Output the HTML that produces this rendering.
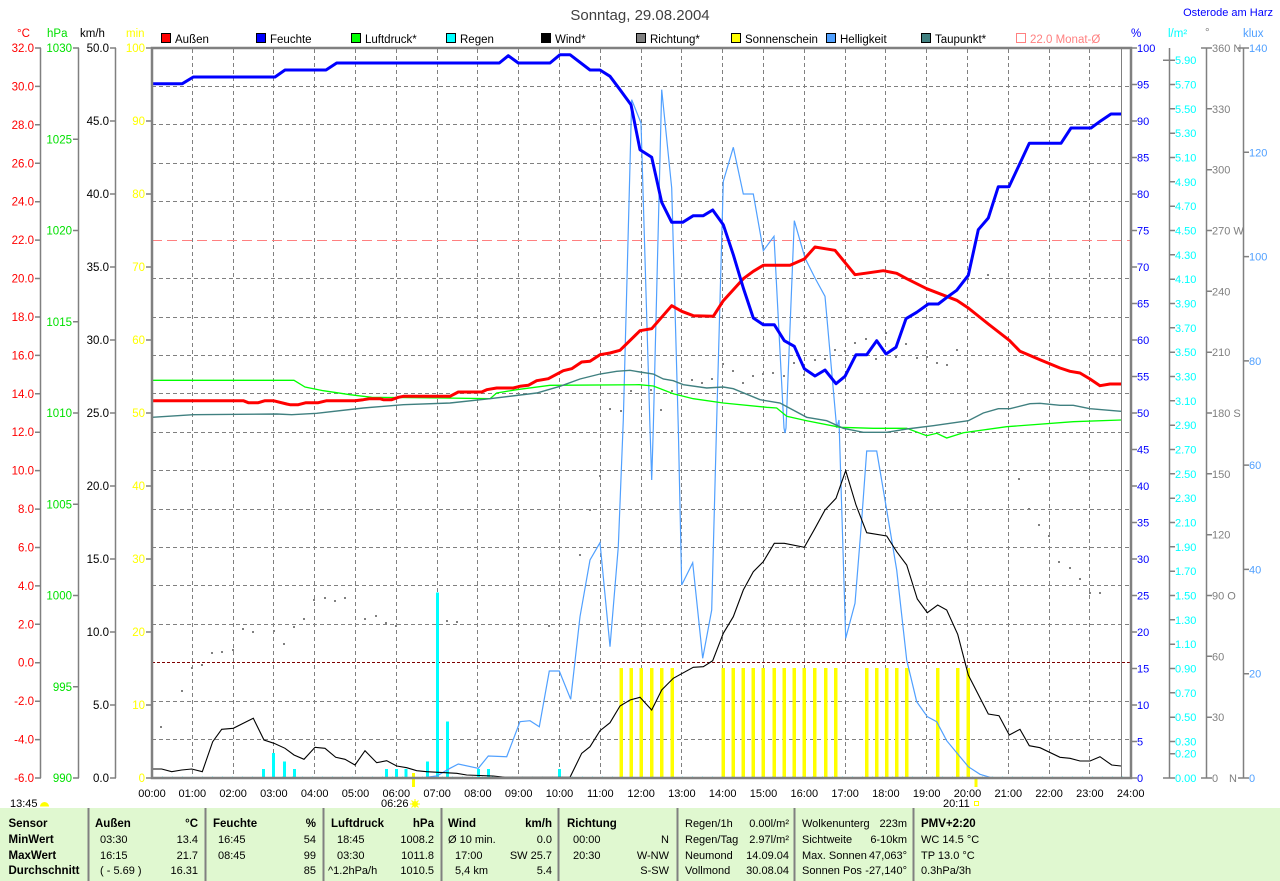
<!DOCTYPE html>
<html><head><meta charset="utf-8"><style>
html,body{margin:0;padding:0;background:#fff;width:1280px;height:881px;overflow:hidden}
svg{display:block}
text{font-family:"Liberation Sans",Arial,sans-serif}
</style></head><body>
<svg width="1280" height="881" viewBox="0 0 1280 881" xmlns="http://www.w3.org/2000/svg">
<rect x="0" y="0" width="1280" height="881" fill="#fff"/>
<!-- Title -->
<text x="640" y="20" font-size="15" fill="#404040" text-anchor="middle">Sonntag, 29.08.2004</text>
<text x="1273" y="16" font-size="11" fill="#0000ff" text-anchor="end">Osterode am Harz</text>

<!-- Legend -->
<g font-size="11.5" fill="#000">
<rect x="161.5" y="33.5" width="9" height="9" fill="#ff0000" stroke="#000"/><text x="175" y="43">Außen</text>
<rect x="256.5" y="33.5" width="9" height="9" fill="#0000ff" stroke="#000"/><text x="270" y="43">Feuchte</text>
<rect x="351.5" y="33.5" width="9" height="9" fill="#00ff00" stroke="#000"/><text x="365" y="43">Luftdruck*</text>
<rect x="446.5" y="33.5" width="9" height="9" fill="#00ffff" stroke="#000"/><text x="460" y="43">Regen</text>
<rect x="541.5" y="33.5" width="9" height="9" fill="#000000" stroke="#000"/><text x="555" y="43">Wind*</text>
<rect x="636.5" y="33.5" width="9" height="9" fill="#808080" stroke="#000"/><text x="650" y="43">Richtung*</text>
<rect x="731.5" y="33.5" width="9" height="9" fill="#ffff00" stroke="#000"/><text x="745" y="43">Sonnenschein</text>
<rect x="826.5" y="33.5" width="9" height="9" fill="#50a0ff" stroke="#000"/><text x="840" y="43">Helligkeit</text>
<rect x="921.5" y="33.5" width="9" height="9" fill="#408080" stroke="#000"/><text x="935" y="43">Taupunkt*</text>
<rect x="1016.5" y="33.5" width="9" height="9" fill="none" stroke="#ff8080"/><text x="1030" y="43" fill="#ff8080">22.0 Monat-Ø</text>
</g>

<!-- Axis headers -->
<g font-size="11.5">
<text x="17" y="37" fill="#ff0000">°C</text>
<text x="47" y="37" fill="#00e000">hPa</text>
<text x="80" y="37" fill="#000">km/h</text>
<text x="126" y="37" fill="#ffff00">min</text>
<text x="1131" y="37" fill="#0000ff">%</text>
<text x="1168" y="37" fill="#00ffff">l/m²</text>
<text x="1205" y="36" fill="#808080">°</text>
<text x="1243" y="37" fill="#50a0ff">klux</text>
</g>

<!-- Grid -->
<g stroke="#808080" stroke-width="1" stroke-dasharray="4 3" fill="none">
<path d="M192.5 49V777M233.5 49V777M273.5 49V777M314.5 49V777M355.5 49V777M396.5 49V777M437.5 49V777M477.5 49V777M518.5 49V777M559.5 49V777M600.5 49V777M641.5 49V777M681.5 49V777M722.5 49V777M763.5 49V777M804.5 49V777M845.5 49V777M885.5 49V777M926.5 49V777M967.5 49V777M1008.5 49V777M1049.5 49V777M1089.5 49V777"/>
<path d="M152 86.5H1130M152 124.5H1130M152 163.5H1130M152 201.5H1130M152 278.5H1130M152 317.5H1130M152 355.5H1130M152 393.5H1130M152 432.5H1130M152 470.5H1130M152 509.5H1130M152 547.5H1130M152 585.5H1130M152 624.5H1130M152 701.5H1130M152 739.5H1130"/>
</g>
<path d="M152 240.5H1130" stroke="#ff8080" stroke-width="1" stroke-dasharray="10 5"/>
<path d="M152 662.5H1130" stroke="#800000" stroke-width="1" stroke-dasharray="3 2"/>
<path d="M1121.5 48V778" stroke="#808080" stroke-width="1"/>

<!-- Richtung dots -->
<g fill="#808080">
<rect x="160" y="726" width="2" height="2"/><rect x="181" y="690" width="2" height="2"/><rect x="191" y="667" width="2" height="2"/><rect x="201" y="664" width="2" height="2"/><rect x="211" y="652" width="2" height="2"/><rect x="221" y="651" width="2" height="2"/><rect x="232" y="649" width="2" height="2"/><rect x="242" y="628" width="2" height="2"/><rect x="252" y="631" width="2" height="2"/><rect x="273" y="630" width="2" height="2"/><rect x="283" y="643" width="2" height="2"/><rect x="293" y="626" width="2" height="2"/><rect x="303" y="618" width="2" height="2"/><rect x="313" y="599" width="2" height="2"/><rect x="324" y="597" width="2" height="2"/><rect x="334" y="600" width="2" height="2"/><rect x="344" y="597" width="2" height="2"/><rect x="364" y="618" width="2" height="2"/><rect x="375" y="615" width="2" height="2"/><rect x="385" y="622" width="2" height="2"/><rect x="395" y="625" width="2" height="2"/><rect x="446" y="620" width="2" height="2"/><rect x="456" y="621" width="2" height="2"/><rect x="548" y="625" width="2" height="2"/><rect x="579" y="554" width="2" height="2"/><rect x="589" y="509" width="2" height="2"/><rect x="599" y="475" width="2" height="2"/><rect x="609" y="408" width="2" height="2"/><rect x="620" y="410" width="2" height="2"/><rect x="630" y="390" width="2" height="2"/><rect x="650" y="389" width="2" height="2"/><rect x="660" y="409" width="2" height="2"/><rect x="671" y="390" width="2" height="2"/><rect x="691" y="379" width="2" height="2"/><rect x="701" y="382" width="2" height="2"/><rect x="711" y="378" width="2" height="2"/><rect x="722" y="363" width="2" height="2"/><rect x="732" y="370" width="2" height="2"/><rect x="742" y="382" width="2" height="2"/><rect x="752" y="375" width="2" height="2"/><rect x="762" y="373" width="2" height="2"/><rect x="772" y="372" width="2" height="2"/><rect x="783" y="375" width="2" height="2"/><rect x="793" y="362" width="2" height="2"/><rect x="803" y="374" width="2" height="2"/><rect x="814" y="359" width="2" height="2"/><rect x="824" y="358" width="2" height="2"/><rect x="834" y="349" width="2" height="2"/><rect x="844" y="350" width="2" height="2"/><rect x="854" y="342" width="2" height="2"/><rect x="865" y="338" width="2" height="2"/><rect x="875" y="358" width="2" height="2"/><rect x="885" y="332" width="2" height="2"/><rect x="895" y="356" width="2" height="2"/><rect x="905" y="343" width="2" height="2"/><rect x="916" y="357" width="2" height="2"/><rect x="926" y="356" width="2" height="2"/><rect x="936" y="362" width="2" height="2"/><rect x="946" y="364" width="2" height="2"/><rect x="956" y="349" width="2" height="2"/><rect x="967" y="278" width="2" height="2"/><rect x="987" y="274" width="2" height="2"/><rect x="1018" y="478" width="2" height="2"/><rect x="1028" y="508" width="2" height="2"/><rect x="1038" y="524" width="2" height="2"/><rect x="1048" y="535" width="2" height="2"/><rect x="1058" y="561" width="2" height="2"/><rect x="1069" y="567" width="2" height="2"/><rect x="1079" y="578" width="2" height="2"/><rect x="1089" y="592" width="2" height="2"/><rect x="1099" y="592" width="2" height="2"/>
</g>

<!-- Sonnenschein bars -->
<g fill="#ffff00">
<rect x="619.5" y="668" width="3.5" height="110"/><rect x="629.5" y="668" width="3.5" height="110"/><rect x="639.5" y="668" width="3.5" height="110"/><rect x="650" y="668" width="3.5" height="110"/><rect x="660" y="668" width="3.5" height="110"/><rect x="670.5" y="668" width="3.5" height="110"/><rect x="721.5" y="668" width="3.5" height="110"/><rect x="731.5" y="668" width="3.5" height="110"/><rect x="741.5" y="668" width="3.5" height="110"/><rect x="751.5" y="668" width="3.5" height="110"/><rect x="761.5" y="668" width="3.5" height="110"/><rect x="772.5" y="668" width="3.5" height="110"/><rect x="782.5" y="668" width="3.5" height="110"/><rect x="792.5" y="668" width="3.5" height="110"/><rect x="802.5" y="668" width="3.5" height="110"/><rect x="813" y="668" width="3.5" height="110"/><rect x="824" y="668" width="3.5" height="110"/><rect x="834" y="668" width="3.5" height="110"/><rect x="865" y="668" width="3.5" height="110"/><rect x="875" y="668" width="3.5" height="110"/><rect x="885" y="668" width="3.5" height="110"/><rect x="895" y="668" width="3.5" height="110"/><rect x="905" y="668" width="3.5" height="110"/><rect x="936" y="668" width="3.5" height="110"/><rect x="956" y="668" width="3.5" height="110"/><rect x="966.5" y="668" width="3.5" height="110"/>
<rect x="412" y="773" width="3" height="14"/><rect x="974.5" y="778" width="3" height="9"/>
</g>

<!-- Regen bars -->
<g fill="#00ffff">
<rect x="262" y="769" width="3" height="9"/><rect x="272" y="753" width="3" height="25"/><rect x="283" y="761.5" width="3" height="16.5"/><rect x="293" y="769" width="3" height="9"/><rect x="385" y="769" width="3" height="9"/><rect x="395" y="769" width="3" height="9"/><rect x="404.5" y="769" width="3" height="9"/><rect x="426" y="761.5" width="3" height="16.5"/><rect x="436" y="592.5" width="3" height="185.5"/><rect x="446" y="721.5" width="3" height="56.5"/><rect x="477" y="769" width="3" height="9"/><rect x="487" y="769" width="3" height="9"/><rect x="558" y="769" width="3" height="9"/>
</g>
<path d="M152 777H1130" stroke="#00ffff" stroke-width="1" stroke-dasharray="1 9"/>

<!-- Helligkeit -->
<polyline fill="none" stroke="#50a0ff" stroke-width="1.2" points="413,778 423.3,777.7 436.7,776 450,768.3 458.3,764 478.3,768.3 488.3,756 506.7,756.7 520,721.7 530,720.7 539.3,726.7 549.3,671 559.3,671 570.7,699.3 580,616.7 590,560 600,542.7 610,646.7 618.3,546.7 623.3,420 630,164.7 631.7,99.7 641,123 650,428 651.7,480 653.3,428 661.7,89.7 671.7,188 678.3,428 681.7,585 692.7,562.7 702.7,658.3 711.7,610 716.7,420 723.3,181.3 733.3,147.3 743.3,194 753.3,194 763.3,250.7 774,236.3 784,428 785,433 786,428 794.3,220.7 805,258 815,278 825,296.3 836.7,428 839,420 845.7,638.3 855,603.3 861.7,520 866.7,451 876.7,451 886.7,510 896.7,570 906.7,660 916.7,701.7 927.3,716.7 936.7,721.7 946.7,740.7 968.3,766.7 980,774.3 990,777.3 1000,778"/>

<!-- Luftdruck -->
<polyline fill="none" stroke="#00ff00" stroke-width="1.3" points="152,380.3 294,380.3 305,387 323.3,390.7 350,394.7 371.7,397.3 443.3,398 490,398.7 496.7,393 516.7,389.7 550,385.3 639.3,384.7 653.3,386 673.3,393.7 693.3,398.7 723.3,403 766.7,407.3 776.7,408 786.7,416.3 806.7,420.7 840,427.3 873.3,428.3 906.7,428.3 926.7,435.7 936.7,433.3 946.7,438 963.3,432.7 1006.7,426.7 1073.3,421.7 1121,420"/>

<!-- Taupunkt -->
<polyline fill="none" stroke="#408080" stroke-width="1.4" points="152,417.3 193.3,414.7 276.7,414 291.7,414.7 316.7,413.3 363.3,408 403.3,404.7 450,403 490,398.7 536.7,393 560,386.3 580,379 600,374 616.7,371.3 630,370.3 640,372 653.3,374 663.3,379 673.3,380.7 683.3,384.7 706.7,388 723.3,387 733.3,388.7 760,399.7 780,403 806.7,417.3 826.7,420.7 843.3,428.3 863.3,432.3 886.7,432.3 906.7,429 933.3,425.7 968.3,420.7 983.3,413 998.3,408.7 1010,408.7 1030,403.7 1040,403.3 1060,405.3 1073.3,405.3 1090,408.7 1121,411.3"/>

<!-- Wind -->
<polyline fill="none" stroke="#000" stroke-width="1.1" points="152,769 161.7,769 171.7,771.7 181.7,770 191.7,769 202.3,771.7 212.7,741.7 221.7,729.3 233.3,728.3 243.3,723.3 253.3,718.3 264,740 274,743.3 285,748.3 294,755 304,759.3 315,747.3 325,748.3 335.7,757.3 345,759.3 355,765 365,750.7 376.7,762.7 386.7,760.7 396.7,766 406.7,767.7 416.7,770.7 426.7,771.7 456.7,773.3 466.7,775 493.3,776 505,777.3 570,777.3 581.7,753.3 590,746.7 600,730.7 610,722.7 620,706 630,700 640,697.3 651.7,710 661.7,690 673.3,678.3 693.3,667.3 703.3,666.7 712.7,660.7 723.3,633.3 733.3,616.7 743.3,590 753.3,571.7 763.3,561.7 774.3,543.3 784.3,543.3 804.3,547.3 815,528.3 825,510 836,498.3 845.7,470.7 856,505 866.7,532.7 886.7,536 896.7,551.7 906.7,565 917.3,599 927.3,612.7 937.7,605 946.7,610 957.7,634.3 968.3,675 988.3,714 999,715.7 1009.3,735 1020,729.3 1029.3,745.7 1040,747.7 1060,757.3 1070,758.3 1080,761 1090,761 1100,756.7 1111.7,765 1121,766"/>

<!-- Außen -->
<polyline fill="none" stroke="#ff0000" stroke-width="3" stroke-linejoin="round" points="152,400.7 243.3,400.7 248.3,402.7 258.3,402.7 265,400.7 273.3,400.7 286.7,404 290,404.7 298.3,404.7 306,402.7 318.3,402.7 326.7,400.7 355,400.7 363.3,399.7 370,398.7 380,398.7 383.3,399.7 391.7,399.7 398.3,397.3 403.3,396.3 450,396.3 458.3,392 481.7,392 486.7,389.7 496.7,388 513.3,388 520,386.3 528.3,385.3 536.7,380.7 548.3,378.7 563.3,370.7 571.7,368.7 581.7,362 590,361.3 600,354.7 610,353 620,350.3 640,330.7 651.7,328.7 671.7,305.7 681.7,311.3 693.3,315.7 713.3,316.3 723.3,300.7 743.3,278.7 753.3,271.3 763.3,265.3 790,265.3 804.3,259 815,247 825,248.7 835,250.3 855,274.7 865,273.3 883.3,270.7 896.7,273.3 906.7,278.7 926.7,288.7 956.7,300.3 968.3,308 988.3,324 1009.3,340.3 1020,351.3 1040,359.7 1060,368 1070,371.3 1080,373 1090,379 1100,385.7 1110,384 1121,384"/>

<!-- Feuchte -->
<polyline fill="none" stroke="#0000ff" stroke-width="3" stroke-linejoin="round" points="152,83.7 182.3,83.7 193.3,77 275,77 285,70 326,70 336.7,63 499.3,63 508.3,55.7 518.3,63 550,63 560,54.7 570,54.7 590,70 600,70 610,76.3 620,89.7 631,104.7 640,149.7 651.7,157.3 661.7,202.3 671.7,222.3 682.7,222.3 693.3,215.7 703.3,215.7 712.7,210 723.3,224.7 733.3,254.7 743.3,288 753.3,318 763.3,324.7 774.3,324.7 784.3,340.7 794.3,346.3 804.3,368.7 815,376 825,370 836,383.7 845,376.3 856,354.7 866.7,354.7 876.7,340.7 886,354 896,347.3 906,318.7 916.7,312.3 928.3,304 938.3,304 948.3,296.3 956.7,290.3 968.3,275.3 974.3,248 978.3,229.7 988.3,218 998.3,186.7 1009,186.7 1019.3,164.7 1029.3,143.3 1061,143.3 1071,128 1091,128 1101,120.7 1111,114 1121,114"/>

<!-- Plot frame -->
<rect x="152" y="48" width="979" height="730" fill="none" stroke="#808080" stroke-width="2.5"/>

<!-- Left axes -->
<g stroke="#808080" stroke-width="1.5" fill="none">
<path d="M40.5 48V778M78.5 48V778M115.5 48V778"/>
<path d="M35 48h6M35 86.4h6M35 124.8h6M35 163.3h6M35 201.7h6M35 240.1h6M35 278.5h6M35 317h6M35 355.4h6M35 393.8h6M35 432.2h6M35 470.6h6M35 509.1h6M35 547.5h6M35 585.9h6M35 624.3h6M35 662.7h6M35 701.2h6M35 739.6h6M35 778h6"/>
<path d="M73 48h6M73 139.3h6M73 230.5h6M73 321.8h6M73 413h6M73 504.3h6M73 595.5h6M73 686.8h6M73 778h6"/>
<path d="M110 48h6M110 121h6M110 194h6M110 267h6M110 340h6M110 413h6M110 486h6M110 559h6M110 632h6M110 705h6M110 778h6"/>
<path d="M146 48h6M146 121h6M146 194h6M146 267h6M146 340h6M146 413h6M146 486h6M146 559h6M146 632h6M146 705h6M146 778h6"/>
</g>
<g font-size="11.5" text-anchor="end" fill="#ff0000">
<text x="34" y="52">32.0</text><text x="34" y="90.4">30.0</text><text x="34" y="128.8">28.0</text><text x="34" y="167.3">26.0</text><text x="34" y="205.7">24.0</text><text x="34" y="244.1">22.0</text><text x="34" y="282.5">20.0</text><text x="34" y="321">18.0</text><text x="34" y="359.4">16.0</text><text x="34" y="397.8">14.0</text><text x="34" y="436.2">12.0</text><text x="34" y="474.6">10.0</text><text x="34" y="513.1">8.0</text><text x="34" y="551.5">6.0</text><text x="34" y="589.9">4.0</text><text x="34" y="628.3">2.0</text><text x="34" y="666.7">0.0</text><text x="34" y="705.2">-2.0</text><text x="34" y="743.6">-4.0</text><text x="34" y="782">-6.0</text>
</g>
<g font-size="11.5" text-anchor="end" fill="#00e000">
<text x="72" y="52">1030</text><text x="72" y="143.3">1025</text><text x="72" y="234.5">1020</text><text x="72" y="325.8">1015</text><text x="72" y="417">1010</text><text x="72" y="508.3">1005</text><text x="72" y="599.5">1000</text><text x="72" y="690.8">995</text><text x="72" y="782">990</text>
</g>
<g font-size="11.5" text-anchor="end" fill="#000">
<text x="109" y="52">50.0</text><text x="109" y="125">45.0</text><text x="109" y="198">40.0</text><text x="109" y="271">35.0</text><text x="109" y="344">30.0</text><text x="109" y="417">25.0</text><text x="109" y="490">20.0</text><text x="109" y="563">15.0</text><text x="109" y="636">10.0</text><text x="109" y="709">5.0</text><text x="109" y="782">0.0</text>
</g>
<g font-size="11.5" text-anchor="end" fill="#ffff00">
<text x="145" y="52">100</text><text x="145" y="125">90</text><text x="145" y="198">80</text><text x="145" y="271">70</text><text x="145" y="344">60</text><text x="145" y="417">50</text><text x="145" y="490">40</text><text x="145" y="563">30</text><text x="145" y="636">20</text><text x="145" y="709">10</text><text x="145" y="782">0</text>
</g>

<!-- Right axes -->
<g stroke="#808080" stroke-width="1.5" fill="none">
<path d="M1131 48h6M1131 84.5h6M1131 121h6M1131 157.5h6M1131 194h6M1131 230.5h6M1131 267h6M1131 303.5h6M1131 340h6M1131 376.5h6M1131 413h6M1131 449.5h6M1131 486h6M1131 522.5h6M1131 559h6M1131 595.5h6M1131 632h6M1131 668.5h6M1131 705h6M1131 741.5h6M1131 778h6"/>
<path d="M1169.5 48V778M1206.5 48V778M1243.5 48V778"/>
<path d="M1163 60.2h12M1169 84.5h6M1169 108.8h6M1169 133.2h6M1169 157.5h6M1169 181.8h6M1169 206.2h6M1169 230.5h6M1169 254.8h6M1169 279.2h6M1169 303.5h6M1169 327.8h6M1169 352.2h6M1169 376.5h6M1169 400.8h6M1169 425.2h6M1169 449.5h6M1169 473.8h6M1169 498.2h6M1169 522.5h6M1169 546.8h6M1169 571.2h6M1169 595.5h6M1169 619.8h6M1169 644.2h6M1169 668.5h6M1169 692.8h6M1169 717.2h6M1169 741.5h6M1169 753.7h6M1163 778h12"/>
<path d="M1201 48h11M1206 108.8h6M1206 169.7h6M1206 230.5h6M1206 291.3h6M1206 352.2h6M1206 413h6M1206 473.8h6M1206 534.7h6M1206 595.5h6M1206 656.3h6M1206 717.2h6M1201 778h11"/>
<path d="M1238 48h11M1243 152.3h6M1243 256.6h6M1243 360.9h6M1243 465.1h6M1243 569.4h6M1243 673.7h6M1238 778h11"/>
</g>
<g font-size="11" fill="#0000ff">
<text x="1137" y="52">100</text><text x="1137" y="88.5">95</text><text x="1137" y="125">90</text><text x="1137" y="161.5">85</text><text x="1137" y="198">80</text><text x="1137" y="234.5">75</text><text x="1137" y="271">70</text><text x="1137" y="307.5">65</text><text x="1137" y="344">60</text><text x="1137" y="380.5">55</text><text x="1137" y="417">50</text><text x="1137" y="453.5">45</text><text x="1137" y="490">40</text><text x="1137" y="526.5">35</text><text x="1137" y="563">30</text><text x="1137" y="599.5">25</text><text x="1137" y="636">20</text><text x="1137" y="672.5">15</text><text x="1137" y="709">10</text><text x="1137" y="745.5">5</text><text x="1137" y="782">0</text>
</g>
<g font-size="11" fill="#00ffff">
<text x="1175" y="64.2">5.90</text><text x="1175" y="88.5">5.70</text><text x="1175" y="112.8">5.50</text><text x="1175" y="137.2">5.30</text><text x="1175" y="161.5">5.10</text><text x="1175" y="185.8">4.90</text><text x="1175" y="210.2">4.70</text><text x="1175" y="234.5">4.50</text><text x="1175" y="258.8">4.30</text><text x="1175" y="283.2">4.10</text><text x="1175" y="307.5">3.90</text><text x="1175" y="331.8">3.70</text><text x="1175" y="356.2">3.50</text><text x="1175" y="380.5">3.30</text><text x="1175" y="404.8">3.10</text><text x="1175" y="429.2">2.90</text><text x="1175" y="453.5">2.70</text><text x="1175" y="477.8">2.50</text><text x="1175" y="502.2">2.30</text><text x="1175" y="526.5">2.10</text><text x="1175" y="550.8">1.90</text><text x="1175" y="575.2">1.70</text><text x="1175" y="599.5">1.50</text><text x="1175" y="623.8">1.30</text><text x="1175" y="648.2">1.10</text><text x="1175" y="672.5">0.90</text><text x="1175" y="696.8">0.70</text><text x="1175" y="721.2">0.50</text><text x="1175" y="745.5">0.30</text><text x="1175" y="757.7">0.20</text><text x="1175" y="782">0.00</text>
</g>
<g font-size="11" fill="#808080">
<text x="1212" y="52">360 N</text><text x="1212" y="112.8">330</text><text x="1212" y="173.7">300</text><text x="1212" y="234.5">270 W</text><text x="1212" y="295.3">240</text><text x="1212" y="356.2">210</text><text x="1212" y="417">180 S</text><text x="1212" y="477.8">150</text><text x="1212" y="538.7">120</text><text x="1212" y="599.5">90 O</text><text x="1212" y="660.3">60</text><text x="1212" y="721.2">30</text><text x="1212" y="782">0</text><text x="1229" y="782">N</text>
</g>
<g font-size="11" fill="#50a0ff">
<text x="1249" y="52">140</text><text x="1249" y="156.3">120</text><text x="1249" y="260.6">100</text><text x="1249" y="364.9">80</text><text x="1249" y="469.1">60</text><text x="1249" y="573.4">40</text><text x="1249" y="677.7">20</text><text x="1249" y="782">0</text>
</g>

<!-- Hour labels -->
<g font-size="11" text-anchor="middle" fill="#000">
<text x="152" y="797">00:00</text><text x="192.3" y="797">01:00</text><text x="233.1" y="797">02:00</text><text x="273.9" y="797">03:00</text><text x="314.7" y="797">04:00</text><text x="355.5" y="797">05:00</text><text x="396.3" y="797">06:00</text><text x="437.1" y="797">07:00</text><text x="477.9" y="797">08:00</text><text x="518.7" y="797">09:00</text><text x="559.5" y="797">10:00</text><text x="600.3" y="797">11:00</text><text x="641.1" y="797">12:00</text><text x="681.9" y="797">13:00</text><text x="722.7" y="797">14:00</text><text x="763.5" y="797">15:00</text><text x="804.3" y="797">16:00</text><text x="845.1" y="797">17:00</text><text x="885.9" y="797">18:00</text><text x="926.7" y="797">19:00</text><text x="967.5" y="797">20:00</text><text x="1008.3" y="797">21:00</text><text x="1049.1" y="797">22:00</text><text x="1089.9" y="797">23:00</text><text x="1130.7" y="797">24:00</text>
</g>
<g font-size="11" fill="#000">
<text x="10" y="807">13:45</text>
<text x="381" y="807">06:26</text>
<text x="943" y="807">20:11</text>
</g>
<path d="M40 806.5 A4.5 4.5 0 0 1 49 806.5 Z" fill="#ffff00"/>
<circle cx="415" cy="804" r="3" fill="#ffff00"/>
<path d="M415 799v2M415 807v2M410 804h2M418 804h2M411.5 800.5l1.5 1.5M417 806l1.5 1.5M418.5 800.5l-1.5 1.5M413 806l-1.5 1.5" stroke="#ffff00" stroke-width="1"/>
<rect x="974.5" y="801.5" width="4" height="4" fill="none" stroke="#ffff00" stroke-width="1"/>

<!-- Footer -->
<rect x="0" y="808" width="1280" height="73" fill="#e0f8d0"/>
<path d="M88.5 808V881M205.5 808V881M323.5 808V881M441.5 808V881M558.5 808V881M677.5 808V881M794.5 808V881M913.5 808V881" stroke="#808080" stroke-width="2"/>
<g font-size="11.5" font-weight="bold" fill="#000">
<text x="8.5" y="827">Sensor</text><text x="8.5" y="843">MinWert</text><text x="8.5" y="859">MaxWert</text><text x="8.5" y="874">Durchschnitt</text>
<text x="95" y="827">Außen</text><text x="198" y="827" text-anchor="end">°C</text>
<text x="213" y="827">Feuchte</text><text x="316" y="827" text-anchor="end">%</text>
<text x="331" y="827">Luftdruck</text><text x="434" y="827" text-anchor="end">hPa</text>
<text x="448" y="827">Wind</text><text x="552" y="827" text-anchor="end">km/h</text>
<text x="567" y="827">Richtung</text>
<text x="921" y="827">PMV+2:20</text>
</g>
<g font-size="11" fill="#000">
<text x="100" y="843">03:30</text><text x="198" y="843" text-anchor="end">13.4</text>
<text x="100" y="859">16:15</text><text x="198" y="859" text-anchor="end">21.7</text>
<text x="100" y="874">( - 5.69 )</text><text x="198" y="874" text-anchor="end">16.31</text>
<text x="218" y="843">16:45</text><text x="316" y="843" text-anchor="end">54</text>
<text x="218" y="859">08:45</text><text x="316" y="859" text-anchor="end">99</text>
<text x="316" y="874" text-anchor="end">85</text>
<text x="337" y="843">18:45</text><text x="434" y="843" text-anchor="end">1008.2</text>
<text x="337" y="859">03:30</text><text x="434" y="859" text-anchor="end">1011.8</text>
<text x="328" y="874">^1.2hPa/h</text><text x="434" y="874" text-anchor="end">1010.5</text>
<text x="448" y="843">Ø 10 min.</text><text x="552" y="843" text-anchor="end">0.0</text>
<text x="455" y="859">17:00</text><text x="552" y="859" text-anchor="end">SW 25.7</text>
<text x="455" y="874">5,4 km</text><text x="552" y="874" text-anchor="end">5.4</text>
<text x="573" y="843">00:00</text><text x="669" y="843" text-anchor="end">N</text>
<text x="573" y="859">20:30</text><text x="669" y="859" text-anchor="end">W-NW</text>
<text x="669" y="874" text-anchor="end">S-SW</text>
<text x="685" y="827">Regen/1h</text><text x="789" y="827" text-anchor="end">0.00l/m²</text>
<text x="685" y="843">Regen/Tag</text><text x="789" y="843" text-anchor="end">2.97l/m²</text>
<text x="685" y="859">Neumond</text><text x="789" y="859" text-anchor="end">14.09.04</text>
<text x="685" y="874">Vollmond</text><text x="789" y="874" text-anchor="end">30.08.04</text>
<text x="802" y="827">Wolkenunterg</text><text x="907" y="827" text-anchor="end">223m</text>
<text x="802" y="843">Sichtweite</text><text x="907" y="843" text-anchor="end">6-10km</text>
<text x="802" y="859">Max. Sonnen</text><text x="907" y="859" text-anchor="end">47,063°</text>
<text x="802" y="874">Sonnen Pos</text><text x="907" y="874" text-anchor="end">-27,140°</text>
<text x="921" y="843">WC 14.5 °C</text>
<text x="921" y="859">TP 13.0 °C</text>
<text x="921" y="874">0.3hPa/3h</text>
</g>
</svg>
</body></html>
